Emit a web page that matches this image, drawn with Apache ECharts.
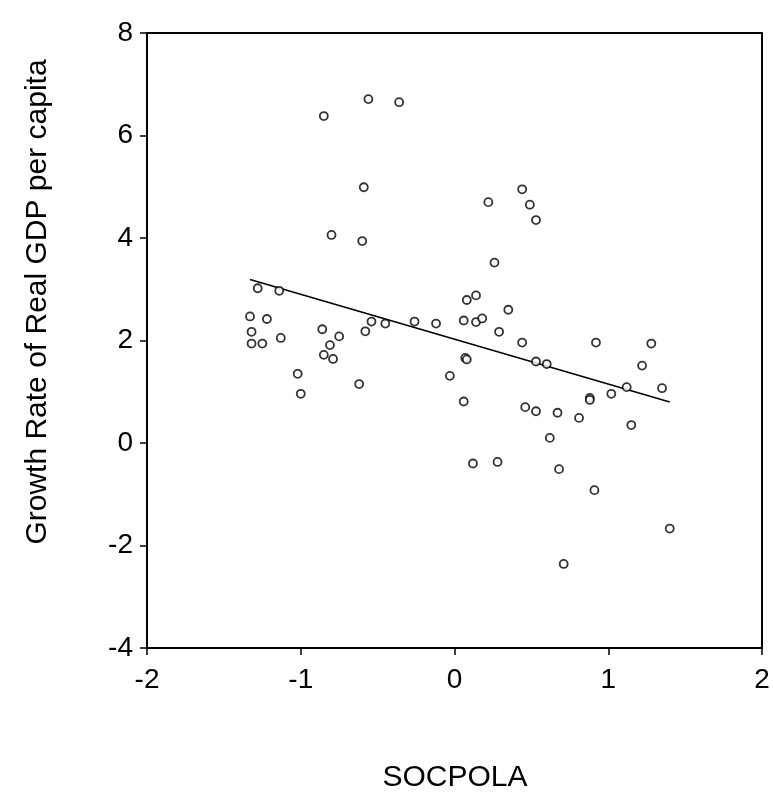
<!DOCTYPE html>
<html>
<head>
<meta charset="utf-8">
<script src="https://cdn.jsdelivr.net/npm/echarts@6/dist/echarts.min.js"></script>
<style>
  html, body { margin: 0; padding: 0; background: #fff; }
  #chart { width: 773px; height: 793px; }
</style>
</head>
<body>
<div id="chart"></div>
<script>
// Social policy index (SOCPOLA) against growth of real GDP per capita
const socpola = [
  -0.56, -0.36, -0.85, -0.59, -0.80, -0.60, -1.28, -1.14, -1.33, -1.22,
  -1.32, -1.13, -0.86, -0.75, -0.54, -0.58, -0.45, -0.26, -0.12, -1.32,
  -1.25, -0.81, -0.85, -0.79, -1.02, -1.00, -0.62, 0.06, 0.14, 0.18,
  0.08, 0.14, 0.07, 0.08, -0.03, 0.06, 0.44, 0.22, 0.49, 0.53,
  0.26, 0.35, 0.29, 0.44, 0.92, 1.28, 0.53, 0.60, 1.22, 1.12,
  1.35, 1.02, 0.88, 0.88, 0.46, 0.53, 0.67, 0.81, 1.15, 0.62,
  0.12, 0.28, 0.68, 0.91, 1.40, 0.71
];
const growth = [
  6.71, 6.65, 6.38, 4.99, 4.06, 3.94, 3.02, 2.97, 2.47, 2.42,
  2.17, 2.05, 2.22, 2.08, 2.37, 2.18, 2.33, 2.37, 2.33, 1.94,
  1.94, 1.91, 1.72, 1.64, 1.35, 0.96, 1.15, 2.39, 2.36, 2.43,
  2.79, 2.88, 1.66, 1.63, 1.31, 0.81, 4.95, 4.70, 4.65, 4.35,
  3.52, 2.60, 2.17, 1.96, 1.96, 1.94, 1.59, 1.54, 1.51, 1.09,
  1.07, 0.96, 0.88, 0.84, 0.70, 0.62, 0.59, 0.49, 0.35, 0.10,
  -0.40, -0.37, -0.51, -0.92, -1.67, -2.36
];
// Fitted regression line end points
const fitX = [-1.33, 1.40];
const fitY = [3.19, 0.80];

const xTicks = [-2, -1, 0, 1, 2];
const yTicks = [-4, -2, 0, 2, 4, 6, 8];

const FONT = '"Liberation Sans", Arial, sans-serif';

const points = socpola.map((x, i) => [x, growth[i]]);
const fitLine = fitX.map((x, i) => [x, fitY[i]]);

const chart = echarts.init(document.getElementById('chart'), null, { renderer: 'canvas' });

const frameLine = { show: true, onZero: false, lineStyle: { color: '#000', width: 2 } };

chart.setOption({
  backgroundColor: '#fff',
  animation: false,
  grid: { left: 147, top: 33, right: 11, bottom: 145 },
  xAxis: [
    {
      type: 'value', position: 'bottom',
      min: xTicks[0], max: xTicks[xTicks.length - 1], interval: 1,
      axisLine: frameLine,
      axisTick: { show: true, length: 7, lineStyle: { color: '#000', width: 1.5 } },
      axisLabel: {
        margin: 18, color: '#000', fontFamily: FONT, fontSize: 28,
        formatter: v => String(v)
      },
      splitLine: { show: false }
    },
    {
      type: 'value', position: 'top',
      min: xTicks[0], max: xTicks[xTicks.length - 1],
      axisLine: frameLine, axisTick: { show: false },
      axisLabel: { show: false }, splitLine: { show: false }
    }
  ],
  yAxis: [
    {
      type: 'value', position: 'left',
      min: yTicks[0], max: yTicks[yTicks.length - 1], interval: 2,
      axisLine: frameLine,
      axisTick: { show: true, length: 7, lineStyle: { color: '#000', width: 1.5 } },
      axisLabel: {
        margin: 14, color: '#000', fontFamily: FONT, fontSize: 28,
        formatter: v => String(v)
      },
      splitLine: { show: false }
    },
    {
      type: 'value', position: 'right',
      min: yTicks[0], max: yTicks[yTicks.length - 1],
      axisLine: frameLine, axisTick: { show: false },
      axisLabel: { show: false }, splitLine: { show: false }
    }
  ],
  graphic: [
    {
      type: 'text',
      x: 38, y: 302,
      rotation: Math.PI / 2,
      style: {
        text: 'Growth Rate of Real GDP per capita',
        fontFamily: FONT, fontSize: 30, fill: '#000',
        align: 'center', verticalAlign: 'middle'
      }
    },
    {
      type: 'text',
      x: 455, y: 778,
      style: {
        text: 'SOCPOLA',
        fontFamily: FONT, fontSize: 30, fill: '#000',
        align: 'center', verticalAlign: 'middle'
      }
    }
  ],
  series: [
    {
      type: 'line',
      data: fitLine,
      showSymbol: false,
      symbol: 'none',
      lineStyle: { color: '#000', width: 1.6 },
      z: 3
    },
    {
      type: 'scatter',
      data: points,
      symbol: 'circle',
      symbolSize: 8,
      itemStyle: { color: '#fff', borderColor: '#000', borderWidth: 1.8 },
      z: 4
    }
  ]
});
</script>
</body>
</html>
